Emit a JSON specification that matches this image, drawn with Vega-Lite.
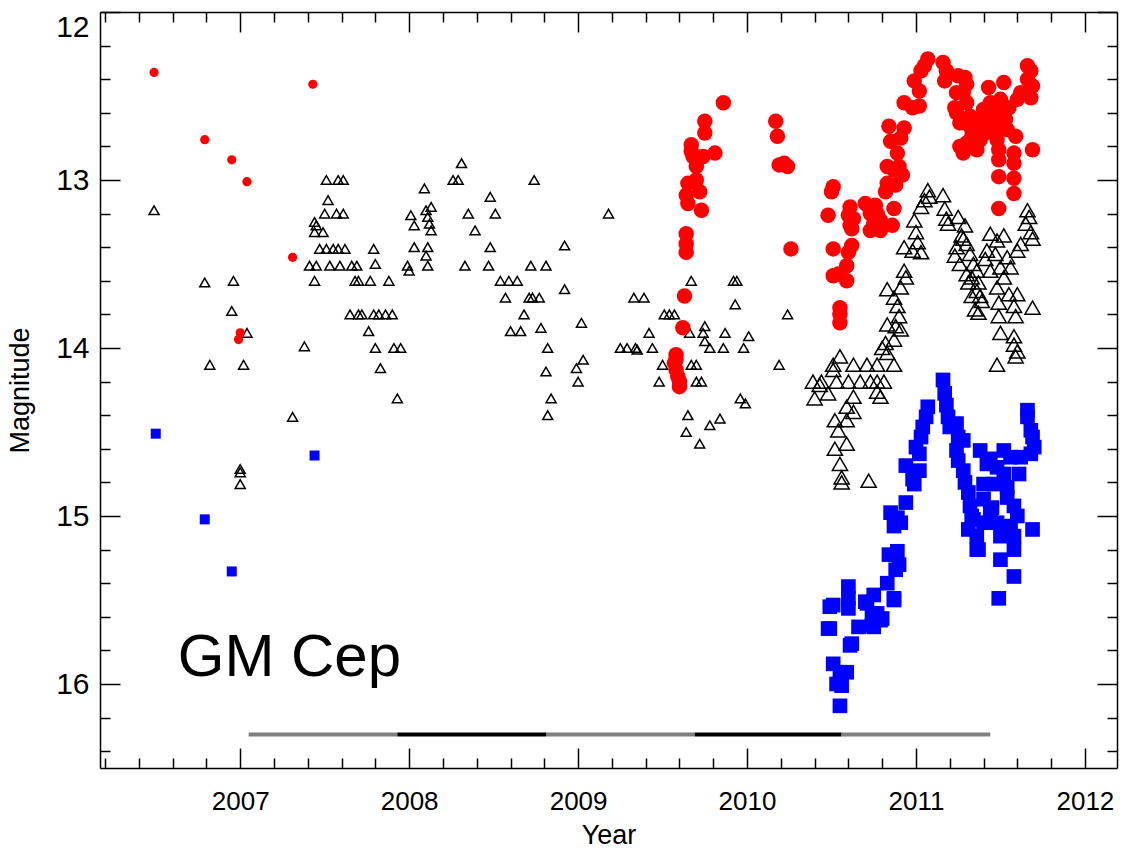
{
  "$schema": "https://vega.github.io/schema/vega-lite/v6.json",
  "width": 1017,
  "height": 756,
  "autosize": {"type": "none"},
  "padding": {"left": 100, "top": 12, "right": 12, "bottom": 82},
  "background": "white",
  "config": {
    "view": {"stroke": null},
    "axis": {
      "grid": false,
      "domainColor": "black",
      "domainWidth": 1.5,
      "tickColor": "black",
      "tickWidth": 1.5,
      "labelColor": "black",
      "labelFont": "Liberation Sans",
      "titleFont": "Liberation Sans",
      "titleFontWeight": "normal",
      "titleColor": "black"
    }
  },
  "datasets": {
    "red": [
      {"year":2006.49,"mag":12.36},{"year":2006.79,"mag":12.76},{"year":2006.95,"mag":12.88},{"year":2007.04,"mag":13.01},{"year":2007.31,"mag":13.46},{"year":2007.43,"mag":12.43},{"year":2007.00,"mag":13.91},{"year":2006.99,"mag":13.95},
      {"year":2009.86,"mag":12.54},{"year":2009.75,"mag":12.65},{"year":2009.75,"mag":12.72},{"year":2009.67,"mag":12.79},{"year":2009.67,"mag":12.83},{"year":2009.68,"mag":12.86},{"year":2009.70,"mag":12.88},{"year":2009.74,"mag":12.86},{"year":2009.70,"mag":12.92},{"year":2009.81,"mag":12.84},{"year":2009.65,"mag":13.02},{"year":2009.70,"mag":13.00},{"year":2009.72,"mag":13.07},{"year":2009.64,"mag":13.09},{"year":2009.65,"mag":13.14},{"year":2009.73,"mag":13.18},{"year":2009.64,"mag":13.32},{"year":2009.64,"mag":13.38},{"year":2009.64,"mag":13.43},{"year":2009.63,"mag":13.69},{"year":2009.62,"mag":13.88},{"year":2009.58,"mag":14.04},{"year":2009.57,"mag":14.09},{"year":2009.58,"mag":14.13},{"year":2009.59,"mag":14.17},{"year":2009.60,"mag":14.23},{"year":2009.58,"mag":14.07},{"year":2009.60,"mag":14.20},
      {"year":2010.17,"mag":12.65},{"year":2010.18,"mag":12.74},{"year":2010.19,"mag":12.91},{"year":2010.24,"mag":12.92},{"year":2010.22,"mag":12.90},{"year":2010.26,"mag":13.41},
      {"year":2010.51,"mag":13.04},{"year":2010.50,"mag":13.07},{"year":2010.48,"mag":13.21},{"year":2010.51,"mag":13.41},{"year":2010.51,"mag":13.57},{"year":2010.54,"mag":13.56},{"year":2010.59,"mag":13.60},{"year":2010.55,"mag":13.76},{"year":2010.55,"mag":13.80},{"year":2010.55,"mag":13.85},{"year":2010.60,"mag":13.43},{"year":2010.62,"mag":13.39},{"year":2010.59,"mag":13.51},{"year":2010.61,"mag":13.16},{"year":2010.60,"mag":13.21},{"year":2010.63,"mag":13.23},{"year":2010.61,"mag":13.27},{"year":2010.62,"mag":13.29},
      {"year":2010.70,"mag":13.14},{"year":2010.76,"mag":13.15},{"year":2010.73,"mag":13.20},{"year":2010.77,"mag":13.20},{"year":2010.75,"mag":13.26},{"year":2010.79,"mag":13.30},{"year":2010.73,"mag":13.30},{"year":2010.87,"mag":13.17},{"year":2010.86,"mag":13.27},{"year":2010.79,"mag":13.24},
      {"year":2010.83,"mag":12.92},{"year":2010.87,"mag":12.94},{"year":2010.90,"mag":12.92},{"year":2010.92,"mag":12.97},{"year":2010.83,"mag":13.02},{"year":2010.88,"mag":13.03},{"year":2010.82,"mag":13.07},
      {"year":2010.84,"mag":12.68},{"year":2010.93,"mag":12.69},{"year":2010.85,"mag":12.77},{"year":2010.91,"mag":12.75},{"year":2010.89,"mag":12.84},
      {"year":2010.93,"mag":12.54},{"year":2010.98,"mag":12.57},{"year":2011.02,"mag":12.56},{"year":2010.99,"mag":12.41},{"year":2011.02,"mag":12.47},{"year":2011.03,"mag":12.35},{"year":2011.07,"mag":12.28},{"year":2011.05,"mag":12.32},
      {"year":2011.16,"mag":12.30},{"year":2011.18,"mag":12.35},{"year":2011.17,"mag":12.41},
      {"year":2011.25,"mag":12.38},{"year":2011.29,"mag":12.39},{"year":2011.30,"mag":12.43},{"year":2011.24,"mag":12.48},{"year":2011.28,"mag":12.48},{"year":2011.23,"mag":12.57},{"year":2011.30,"mag":12.54},{"year":2011.24,"mag":12.60},{"year":2011.32,"mag":12.62},{"year":2011.26,"mag":12.66},{"year":2011.33,"mag":12.70},{"year":2011.30,"mag":12.78},{"year":2011.36,"mag":12.82},{"year":2011.38,"mag":12.76},{"year":2011.35,"mag":12.72},{"year":2011.31,"mag":12.67},
      {"year":2011.43,"mag":12.45},{"year":2011.44,"mag":12.54},{"year":2011.40,"mag":12.58},{"year":2011.46,"mag":12.62},{"year":2011.39,"mag":12.68},{"year":2011.47,"mag":12.70},{"year":2011.48,"mag":12.76},{"year":2011.52,"mag":12.42},{"year":2011.50,"mag":12.52},{"year":2011.53,"mag":12.64},{"year":2011.55,"mag":12.57},
      {"year":2011.49,"mag":12.82},{"year":2011.49,"mag":12.88},{"year":2011.49,"mag":12.98},{"year":2011.49,"mag":13.17},{"year":2011.58,"mag":12.84},{"year":2011.58,"mag":12.90},{"year":2011.58,"mag":12.99},{"year":2011.58,"mag":13.08},{"year":2011.59,"mag":12.74},{"year":2011.60,"mag":12.52},{"year":2011.62,"mag":12.48},
      {"year":2011.66,"mag":12.32},{"year":2011.68,"mag":12.35},{"year":2011.66,"mag":12.40},{"year":2011.69,"mag":12.44},{"year":2011.68,"mag":12.51},{"year":2011.69,"mag":12.82},
      {"year":2011.26,"mag":12.80},{"year":2011.28,"mag":12.84},{"year":2011.33,"mag":12.74},{"year":2011.37,"mag":12.64},{"year":2011.41,"mag":12.72},{"year":2011.45,"mag":12.66},{"year":2011.50,"mag":12.60},{"year":2011.54,"mag":12.70}
    ],
    "tri": [
      {"year":2006.49,"mag":13.18},{"year":2006.79,"mag":13.61},{"year":2006.82,"mag":14.10},{"year":2006.95,"mag":13.78},{"year":2006.96,"mag":13.60},{"year":2007.00,"mag":14.72},{"year":2007.00,"mag":14.74},{"year":2007.00,"mag":14.81},{"year":2007.04,"mag":13.91},{"year":2007.02,"mag":14.10},{"year":2007.31,"mag":14.41},{"year":2007.38,"mag":13.99},
      {"year":2007.44,"mag":13.25},{"year":2007.44,"mag":13.31},{"year":2007.50,"mag":13.20},{"year":2007.57,"mag":13.20},{"year":2007.61,"mag":13.20},{"year":2007.49,"mag":13.31},{"year":2007.47,"mag":13.41},{"year":2007.51,"mag":13.41},{"year":2007.55,"mag":13.41},{"year":2007.58,"mag":13.41},{"year":2007.62,"mag":13.41},{"year":2007.41,"mag":13.51},{"year":2007.45,"mag":13.51},{"year":2007.53,"mag":13.51},{"year":2007.59,"mag":13.51},{"year":2007.66,"mag":13.51},{"year":2007.69,"mag":13.51},{"year":2007.44,"mag":13.60},{"year":2007.68,"mag":13.60},{"year":2007.70,"mag":13.60},{"year":2007.77,"mag":13.60},{"year":2007.88,"mag":13.60},{"year":2007.79,"mag":13.41},{"year":2007.80,"mag":13.50},{"year":2007.52,"mag":13.12},{"year":2007.51,"mag":13.00},{"year":2007.58,"mag":13.00},{"year":2007.61,"mag":13.00},{"year":2007.45,"mag":13.27},
      {"year":2007.65,"mag":13.80},{"year":2007.70,"mag":13.80},{"year":2007.72,"mag":13.80},{"year":2007.79,"mag":13.80},{"year":2007.82,"mag":13.80},{"year":2007.86,"mag":13.80},{"year":2007.90,"mag":13.80},{"year":2007.76,"mag":13.90},{"year":2007.80,"mag":14.00},{"year":2007.91,"mag":14.00},{"year":2007.83,"mag":14.12},{"year":2007.93,"mag":14.30},{"year":2007.95,"mag":14.00},
      {"year":2008.31,"mag":12.90},{"year":2008.26,"mag":13.00},{"year":2008.29,"mag":13.00},{"year":2008.09,"mag":13.05},{"year":2008.74,"mag":13.00},{"year":2008.48,"mag":13.10},{"year":2008.01,"mag":13.21},{"year":2008.10,"mag":13.18},{"year":2008.13,"mag":13.16},{"year":2008.35,"mag":13.20},{"year":2008.51,"mag":13.20},{"year":2008.03,"mag":13.27},{"year":2008.11,"mag":13.22},{"year":2008.12,"mag":13.26},{"year":2008.13,"mag":13.30},{"year":2008.39,"mag":13.30},{"year":2009.18,"mag":13.20},{"year":2008.03,"mag":13.40},{"year":2008.11,"mag":13.40},{"year":2008.10,"mag":13.45},{"year":2008.48,"mag":13.40},{"year":2008.92,"mag":13.39},{"year":2007.99,"mag":13.51},{"year":2008.00,"mag":13.54},{"year":2008.11,"mag":13.51},{"year":2008.33,"mag":13.51},{"year":2008.47,"mag":13.51},{"year":2008.72,"mag":13.51},{"year":2008.81,"mag":13.51},{"year":2008.54,"mag":13.60},{"year":2008.59,"mag":13.60},{"year":2008.64,"mag":13.60},{"year":2008.92,"mag":13.65},{"year":2008.57,"mag":13.70},{"year":2008.71,"mag":13.70},{"year":2008.73,"mag":13.70},{"year":2008.77,"mag":13.70},{"year":2009.33,"mag":13.70},{"year":2009.39,"mag":13.70},{"year":2008.68,"mag":13.80},{"year":2009.02,"mag":13.85},{"year":2008.60,"mag":13.90},{"year":2008.66,"mag":13.90},{"year":2008.78,"mag":13.88},{"year":2008.82,"mag":14.00},{"year":2009.25,"mag":14.00},{"year":2009.29,"mag":14.00},{"year":2009.34,"mag":14.00},{"year":2009.44,"mag":14.00},{"year":2009.50,"mag":14.10},{"year":2009.48,"mag":14.20},{"year":2009.03,"mag":14.07},{"year":2008.99,"mag":14.12},{"year":2009.00,"mag":14.20},{"year":2008.81,"mag":14.14},{"year":2008.84,"mag":14.30},{"year":2008.82,"mag":14.40},
      {"year":2009.93,"mag":13.74},{"year":2010.24,"mag":13.80},{"year":2009.51,"mag":13.80},{"year":2009.54,"mag":13.80},{"year":2009.57,"mag":13.80},{"year":2009.42,"mag":13.91},{"year":2009.66,"mag":13.91},{"year":2009.75,"mag":13.87},{"year":2009.74,"mag":13.91},{"year":2009.87,"mag":13.91},{"year":2010.01,"mag":13.93},{"year":2009.35,"mag":14.01},{"year":2009.75,"mag":13.96},{"year":2009.78,"mag":14.00},{"year":2009.86,"mag":14.00},{"year":2009.98,"mag":14.00},{"year":2009.67,"mag":14.10},{"year":2009.70,"mag":14.10},{"year":2010.19,"mag":14.10},{"year":2009.70,"mag":14.20},{"year":2009.73,"mag":14.20},{"year":2009.96,"mag":14.30},{"year":2009.99,"mag":14.33},{"year":2009.65,"mag":14.40},{"year":2009.64,"mag":14.50},{"year":2009.78,"mag":14.46},{"year":2009.84,"mag":14.42},{"year":2009.72,"mag":14.57},{"year":2009.67,"mag":13.60},{"year":2009.92,"mag":13.60},{"year":2009.94,"mag":13.60},
      {"year":2010.51,"mag":14.10},{"year":2010.51,"mag":14.13},{"year":2010.63,"mag":14.10},{"year":2010.71,"mag":14.10},{"year":2010.77,"mag":14.10},{"year":2010.83,"mag":14.03},{"year":2010.87,"mag":14.10},{"year":2010.39,"mag":14.20},{"year":2010.44,"mag":14.20},{"year":2010.53,"mag":14.20},{"year":2010.60,"mag":14.20},{"year":2010.67,"mag":14.20},{"year":2010.73,"mag":14.20},{"year":2010.77,"mag":14.20},{"year":2010.81,"mag":14.20},{"year":2010.48,"mag":14.27},{"year":2010.63,"mag":14.29},{"year":2010.77,"mag":14.26},{"year":2010.79,"mag":14.29},{"year":2010.40,"mag":14.30},{"year":2010.59,"mag":14.35},{"year":2010.63,"mag":14.38},{"year":2010.52,"mag":14.43},{"year":2010.59,"mag":14.43},{"year":2010.54,"mag":14.49},{"year":2010.52,"mag":14.60},{"year":2010.59,"mag":14.57},{"year":2010.55,"mag":14.69},{"year":2010.56,"mag":14.77},{"year":2010.56,"mag":14.80},{"year":2010.72,"mag":14.79},{"year":2010.55,"mag":14.05},{"year":2010.43,"mag":14.22},
      {"year":2010.83,"mag":13.65},{"year":2010.87,"mag":13.70},{"year":2010.91,"mag":13.64},{"year":2010.93,"mag":13.54},{"year":2010.94,"mag":13.58},{"year":2010.89,"mag":13.75},{"year":2010.83,"mag":13.86},{"year":2010.88,"mag":13.87},{"year":2010.90,"mag":13.81},{"year":2010.91,"mag":13.89},{"year":2010.82,"mag":13.97},{"year":2010.87,"mag":13.95},{"year":2010.80,"mag":14.00},{"year":2010.93,"mag":13.40},{"year":2010.99,"mag":13.24},{"year":2011.00,"mag":13.31},{"year":2011.01,"mag":13.37},{"year":2011.03,"mag":13.43},{"year":2010.98,"mag":13.42},{"year":2011.03,"mag":13.16},{"year":2011.05,"mag":13.12},{"year":2011.07,"mag":13.06},{"year":2011.08,"mag":13.10},{"year":2011.16,"mag":13.09},{"year":2011.17,"mag":13.17},{"year":2011.18,"mag":13.23},{"year":2011.19,"mag":13.26},
      {"year":2011.25,"mag":13.22},{"year":2011.29,"mag":13.27},{"year":2011.27,"mag":13.33},{"year":2011.30,"mag":13.38},{"year":2011.24,"mag":13.40},{"year":2011.23,"mag":13.45},{"year":2011.32,"mag":13.44},{"year":2011.34,"mag":13.50},{"year":2011.26,"mag":13.50},{"year":2011.30,"mag":13.56},{"year":2011.36,"mag":13.54},{"year":2011.31,"mag":13.61},{"year":2011.37,"mag":13.61},{"year":2011.33,"mag":13.69},{"year":2011.38,"mag":13.69},{"year":2011.35,"mag":13.77},{"year":2011.37,"mag":13.79},
      {"year":2011.44,"mag":13.32},{"year":2011.48,"mag":13.36},{"year":2011.52,"mag":13.33},{"year":2011.42,"mag":13.42},{"year":2011.47,"mag":13.44},{"year":2011.54,"mag":13.46},{"year":2011.50,"mag":13.52},{"year":2011.44,"mag":13.54},{"year":2011.48,"mag":13.64},{"year":2011.55,"mag":13.68},{"year":2011.60,"mag":13.68},{"year":2011.49,"mag":13.73},{"year":2011.58,"mag":13.75},{"year":2011.59,"mag":13.81},{"year":2011.49,"mag":13.81},{"year":2011.50,"mag":13.91},{"year":2011.58,"mag":13.93},
      {"year":2011.66,"mag":13.18},{"year":2011.67,"mag":13.22},{"year":2011.65,"mag":13.26},{"year":2011.68,"mag":13.31},{"year":2011.69,"mag":13.35},{"year":2011.60,"mag":13.42},{"year":2011.62,"mag":13.38},{"year":2011.69,"mag":13.76},{"year":2011.48,"mag":14.10},{"year":2011.59,"mag":14.05},{"year":2011.58,"mag":13.98},{"year":2011.60,"mag":14.02},
      {"year":2011.28,"mag":13.35},{"year":2011.33,"mag":13.58},{"year":2011.36,"mag":13.66},{"year":2011.39,"mag":13.72},{"year":2011.41,"mag":13.47},{"year":2011.52,"mag":13.58},{"year":2011.56,"mag":13.52}
    ],
    "blue": [
      {"year":2006.50,"mag":14.51},{"year":2007.44,"mag":14.64},{"year":2006.79,"mag":15.02},{"year":2006.95,"mag":15.33},
      {"year":2011.16,"mag":14.19},{"year":2011.17,"mag":14.27},{"year":2011.18,"mag":14.34},{"year":2011.19,"mag":14.41},{"year":2011.20,"mag":14.47},{"year":2011.24,"mag":14.45},{"year":2011.25,"mag":14.53},{"year":2011.24,"mag":14.61},{"year":2011.28,"mag":14.55},{"year":2011.25,"mag":14.67},{"year":2011.28,"mag":14.73},{"year":2011.29,"mag":14.80},{"year":2011.31,"mag":14.86},{"year":2011.32,"mag":14.94},{"year":2011.34,"mag":15.02},{"year":2011.31,"mag":15.08},{"year":2011.36,"mag":15.12},{"year":2011.37,"mag":15.20},
      {"year":2011.07,"mag":14.35},{"year":2011.06,"mag":14.41},{"year":2011.04,"mag":14.47},{"year":2011.03,"mag":14.53},{"year":2011.00,"mag":14.59},{"year":2011.02,"mag":14.63},{"year":2010.94,"mag":14.70},{"year":2011.02,"mag":14.73},{"year":2010.98,"mag":14.78},{"year":2010.99,"mag":14.81},
      {"year":2010.94,"mag":14.92},{"year":2010.85,"mag":14.98},{"year":2010.89,"mag":15.01},{"year":2010.87,"mag":15.06},{"year":2010.91,"mag":15.04},
      {"year":2010.84,"mag":15.23},{"year":2010.89,"mag":15.21},{"year":2010.90,"mag":15.29},{"year":2010.88,"mag":15.32},
      {"year":2010.83,"mag":15.40},{"year":2010.87,"mag":15.49},{"year":2010.75,"mag":15.47},{"year":2010.70,"mag":15.51},{"year":2010.77,"mag":15.58},{"year":2010.80,"mag":15.61},{"year":2010.75,"mag":15.66},{"year":2010.66,"mag":15.66},{"year":2010.60,"mag":15.42},{"year":2010.60,"mag":15.49},{"year":2010.60,"mag":15.55},{"year":2010.51,"mag":15.53},{"year":2010.49,"mag":15.67},{"year":2010.62,"mag":15.76},
      {"year":2010.49,"mag":15.54},{"year":2010.71,"mag":15.52},{"year":2010.74,"mag":15.58},{"year":2010.79,"mag":15.62},{"year":2010.48,"mag":15.67},{"year":2010.74,"mag":15.65},{"year":2010.61,"mag":15.77},{"year":2010.51,"mag":15.88},{"year":2010.55,"mag":15.93},{"year":2010.59,"mag":15.93},{"year":2010.53,"mag":16.00},{"year":2010.56,"mag":16.01},{"year":2010.55,"mag":16.13},{"year":2010.87,"mag":15.50},
      {"year":2011.38,"mag":14.61},{"year":2011.52,"mag":14.61},{"year":2011.42,"mag":14.69},{"year":2011.48,"mag":14.71},{"year":2011.56,"mag":14.65},{"year":2011.62,"mag":14.65},{"year":2011.68,"mag":14.63},{"year":2011.70,"mag":14.59},{"year":2011.66,"mag":14.41},{"year":2011.66,"mag":14.37},{"year":2011.68,"mag":14.49},{"year":2011.69,"mag":14.53},{"year":2011.61,"mag":14.75},{"year":2011.40,"mag":14.81},{"year":2011.46,"mag":14.81},{"year":2011.54,"mag":14.83},{"year":2011.54,"mag":14.89},{"year":2011.58,"mag":14.94},{"year":2011.60,"mag":15.00},{"year":2011.56,"mag":15.06},{"year":2011.58,"mag":15.12},{"year":2011.58,"mag":15.20},{"year":2011.44,"mag":14.96},{"year":2011.48,"mag":15.04},{"year":2011.40,"mag":15.04},{"year":2011.50,"mag":15.12},{"year":2011.50,"mag":15.26},{"year":2011.58,"mag":15.36},{"year":2011.49,"mag":15.49},{"year":2011.69,"mag":15.08},{"year":2011.36,"mag":15.20},
      {"year":2011.40,"mag":14.90},{"year":2011.45,"mag":14.95},{"year":2011.52,"mag":14.75},{"year":2011.44,"mag":14.66},{"year":2011.33,"mag":15.00}
    ],
    "bar": [
      {"year":2007.05,"year2":2007.93,"mag":16.3,"kind":"a"},
      {"year":2007.93,"year2":2008.81,"mag":16.3,"kind":"b"},
      {"year":2008.81,"year2":2009.69,"mag":16.3,"kind":"a"},
      {"year":2009.69,"year2":2010.56,"mag":16.3,"kind":"b"},
      {"year":2010.56,"year2":2011.44,"mag":16.3,"kind":"a"}
    ],
    "label": [{"name":"GM Cep","year":2006.63,"mag":15.95}]
  },
  "layer": [
    {
      "encoding": {
        "x": {
          "field": "year", "type": "quantitative",
          "scale": {"domain": [2006.17, 2012.19], "nice": false, "zero": false},
          "axis": {
            "orient": "bottom",
            "title": "Year",
            "titleFontSize": 27,
            "titleY": 67,
            "titleBaseline": "middle",
            "values": [2006.2,2006.4,2006.6,2006.8,2007,2007.2,2007.4,2007.6,2007.8,2008,2008.2,2008.4,2008.6,2008.8,2009,2009.2,2009.4,2009.6,2009.8,2010,2010.2,2010.4,2010.6,2010.8,2011,2011.2,2011.4,2011.6,2011.8,2012],
            "labelExpr": "abs(datum.value - round(datum.value)) < 0.01 ? format(datum.value, 'd') : ''",
            "labelFontSize": 26,
            "labelFlush": false,
            "labelOverlap": false,
            "tickSize": {"condition": {"test": "abs(datum.value - round(datum.value)) < 0.01", "value": -20}, "value": -10},
            "labelPadding": 40
          }
        },
        "y": {
          "field": "mag", "type": "quantitative",
          "scale": {"domain": [12, 16.5], "reverse": true, "nice": false, "zero": false},
          "axis": {
            "orient": "left",
            "title": "Magnitude",
            "titleFontSize": 27,
            "titleX": -80,
            "titleY": 378,
            "titleAngle": -90,
            "titleAlign": "center",
            "titleBaseline": "middle",
            "values": [12,12.2,12.4,12.6,12.8,13,13.2,13.4,13.6,13.8,14,14.2,14.4,14.6,14.8,15,15.2,15.4,15.6,15.8,16,16.2,16.4],
            "labelExpr": "abs(datum.value - round(datum.value)) < 0.01 ? format(datum.value, 'd') : ''",
            "labelFontSize": 30,
            "labelFlush": true,
            "labelFlushOffset": 0,
            "labelOverlap": false,
            "tickSize": {"condition": {"test": "abs(datum.value - round(datum.value)) < 0.01", "value": -20}, "value": -10},
            "labelPadding": 31
          }
        }
      },
      "layer": [
        {
          "data": {"name": "bar"},
          "mark": {"type": "rule", "strokeWidth": 4},
          "encoding": {
            "x2": {"field": "year2"},
            "color": {"field": "kind", "type": "nominal", "scale": {"domain": ["a", "b"], "range": ["#808080", "#000000"]}, "legend": null}
          }
        },
        {
          "data": {"name": "tri"},
          "mark": {"type": "point", "shape": "triangle-up", "filled": false, "color": "black", "strokeWidth": 1.5, "opacity": 1},
          "encoding": {
            "size": {"condition": {"test": "datum.year < 2010.35", "value": 100}, "value": 230}
          }
        },
        {
          "data": {"name": "red"},
          "mark": {"type": "circle", "color": "#ff0000", "opacity": 1},
          "encoding": {
            "size": {"condition": {"test": "datum.year < 2008", "value": 85}, "value": 240}
          }
        },
        {
          "data": {"name": "blue"},
          "mark": {"type": "square", "color": "#0000ff", "opacity": 1},
          "encoding": {
            "size": {"condition": {"test": "datum.year < 2008", "value": 100}, "value": 215}
          }
        },
        {
          "data": {"name": "label"},
          "mark": {"type": "text", "align": "left", "baseline": "alphabetic", "fontSize": 60, "font": "Liberation Sans", "color": "black"},
          "encoding": {"text": {"field": "name"}}
        }
      ]
    },
    {
      "data": {"name": "blue"},
      "mark": {"type": "point", "opacity": 0},
      "encoding": {
        "x": {
          "field": "year", "type": "quantitative",
          "scale": {"domain": [2006.17, 2012.19], "nice": false, "zero": false},
          "axis": {
            "orient": "top", "title": null, "labels": false,
            "values": [2006.2,2006.4,2006.6,2006.8,2007,2007.2,2007.4,2007.6,2007.8,2008,2008.2,2008.4,2008.6,2008.8,2009,2009.2,2009.4,2009.6,2009.8,2010,2010.2,2010.4,2010.6,2010.8,2011,2011.2,2011.4,2011.6,2011.8,2012],
            "tickSize": {"condition": {"test": "abs(datum.value - round(datum.value)) < 0.01", "value": -20}, "value": -10}
          }
        },
        "y": {
          "field": "mag", "type": "quantitative",
          "scale": {"domain": [12, 16.5], "reverse": true, "nice": false, "zero": false},
          "axis": {
            "orient": "right", "title": null, "labels": false,
            "values": [12,12.2,12.4,12.6,12.8,13,13.2,13.4,13.6,13.8,14,14.2,14.4,14.6,14.8,15,15.2,15.4,15.6,15.8,16,16.2,16.4],
            "tickSize": {"condition": {"test": "abs(datum.value - round(datum.value)) < 0.01", "value": -20}, "value": -10}
          }
        }
      }
    }
  ],
  "resolve": {
    "scale": {"x": "independent", "y": "independent"},
    "axis": {"x": "independent", "y": "independent"}
  }
}
